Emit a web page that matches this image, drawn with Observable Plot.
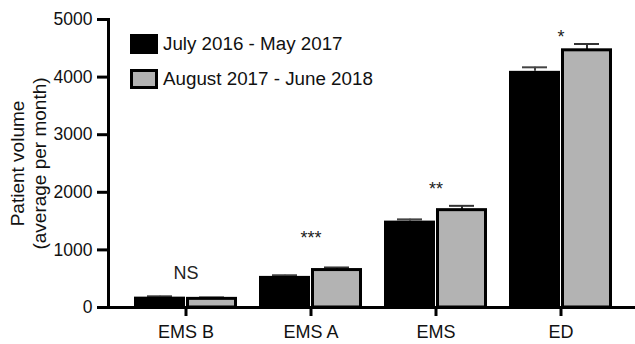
<!DOCTYPE html>
<html><head><meta charset="utf-8">
<script src="https://cdn.jsdelivr.net/npm/d3@7"></script>
<script src="https://cdn.jsdelivr.net/npm/@observablehq/plot@0.6"></script>
<style>
body{margin:0;background:#fff;font-family:"Liberation Sans",Arial,Helvetica,sans-serif;}
#wrap{position:relative;width:635px;height:344px;}
.leg{position:absolute;left:130px;font-size:18.8px;color:#111;display:flex;align-items:center;white-space:nowrap;}
.sw{width:28px;height:20px;box-sizing:border-box;margin-right:5px;}
</style></head><body>
<div id="wrap"></div>
<script>
const categories = ["EMS B", "EMS A", "EMS", "ED"];
const period1 = [180, 540, 1500, 4100];
const period2 = [150, 650, 1690, 4465];
const err1 = [15, 20, 30, 70];
const err2 = [25, 45, 75, 110];
const sigLabels = ["NS", "***", "**", "*"];
const sigY = [590, 1200, 2050, 4700];
const seriesNames = ["July 2016 - May 2017", "August 2017 - June 2018"];
const yTicks = [0, 1000, 2000, 3000, 4000, 5000];

const gray = "#b3b3b3";
const rows = categories.map((c, i) => ({c, v1: period1[i], v2: period2[i], e1: period1[i] + err1[i], e2: period2[i] + err2[i], s: sigLabels[i], sy: sigY[i]}));

const chart = Plot.plot({
  width: 635, height: 344,
  marginLeft: 108, marginRight: 0, marginTop: 19, marginBottom: 37,
  style: {fontFamily: "Liberation Sans, Arial, Helvetica, sans-serif", fontSize: "17px", color: "#111", background: "#fff"},
  x: {domain: categories, paddingInner: 0.175, paddingOuter: 0.179, align: 0.533, label: null},
  y: {domain: [0, 5000], label: null},
  marks: [
    Plot.ruleX(rows, {x: "c", y1: "v1", y2: "e1", dx: -26, stroke: "#444", strokeWidth: 2}),
    Plot.tickY(rows, {x: "c", y: "e1", insetLeft: 13, insetRight: 65, stroke: "#444", strokeWidth: 2}),
    Plot.ruleX(rows, {x: "c", y1: "v2", y2: "e2", dx: 26, stroke: "#333", strokeWidth: 2}),
    Plot.tickY(rows, {x: "c", y: "e2", insetLeft: 65, insetRight: 13, stroke: "#333", strokeWidth: 2}),
    Plot.barY(rows, {x: "c", y: "v1", fill: "#000", insetRight: 52}),
    Plot.barY(rows, {x: "c", y: "v2", fill: gray, stroke: "#000", strokeWidth: 3, insetLeft: 53.5, insetRight: 1.5}),
    Plot.text(rows, {x: "c", y: "sy", text: "s", fill: "#222", fontSize: 18}),
    Plot.axisY({ticks: yTicks, tickSize: 11, tickPadding: 5, strokeWidth: 3, stroke: "#000", fill: "#111", fontSize: 17.5, label: null, tickFormat: d => String(d)}),
    Plot.axisX({tickSize: 9, tickPadding: 9, strokeWidth: 3, stroke: "#000", fill: "#111", fontSize: 18, label: null}),
    Plot.ruleY([0], {stroke: "#000", strokeWidth: 3}),
    Plot.frame({anchor: "left", stroke: "#000", strokeWidth: 3}),
    Plot.text(["Patient volume\n(average per month)"], {frameAnchor: "left", textAnchor: "middle", rotate: -90, dx: -81, lineHeight: 1.16, fontSize: 19, fill: "#111"})
  ]
});
const wrap = document.getElementById("wrap");
wrap.appendChild(chart);
const legTops = [33, 68];
const legStyles = ["background:#000;", `background:${gray};border:3px solid #000;`];
seriesNames.forEach((n, i) => {
  const d = document.createElement("div");
  d.className = "leg";
  d.style.top = legTops[i] + "px";
  d.innerHTML = `<div class="sw" style="${legStyles[i]}"></div><span>${n}</span>`;
  wrap.appendChild(d);
});
</script>
</body></html>
